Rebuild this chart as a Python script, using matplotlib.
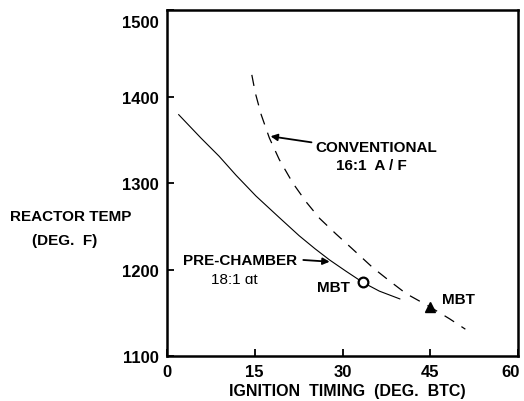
import matplotlib
matplotlib.use("Agg")
import matplotlib.pyplot as plt
from matplotlib.transforms import ScaledTranslation

plt.rcParams['font.family'] = ['Liberation Sans', 'DejaVu Sans']
plt.rcParams['font.weight'] = 'bold'

# pre-chamber, 18:1 overall mixture
pre_x = [2, 5.8, 8.9, 11.8, 15.2, 19.2, 22.6, 25.3, 27.8, 30.6, 33.5, 36.3, 39.8]
pre_y = [1379, 1352, 1331, 1309, 1285, 1260, 1239, 1224, 1211, 1198, 1185, 1175, 1166]

# conventional, 16:1 A/F
conv_x = [14.5, 15.1, 16.1, 17.5, 19.2, 21.5, 23.8, 26.1, 28.9, 31.5, 35.2, 38, 40.9, 44.9, 48.3, 51]
conv_y = [1425, 1404, 1379, 1352, 1327, 1300, 1278, 1259, 1241, 1225, 1202, 1187, 1172, 1157, 1143, 1131]

# minimum advance for best torque
mbt_pre = (33.5, 1185)
mbt_conv = (45, 1157)

x_ticks = [0, 15, 30, 45, 60]
y_ticks = [1100, 1200, 1300, 1400, 1500]

W, H = 524, 402
fig = plt.figure(figsize=(W / 100, H / 100), dpi=100)
ax = fig.add_axes([167 / W, 1 - 357 / H, 351 / W, 346 / H])

ax.plot(pre_x, pre_y, color='black', lw=0.8)
ax.plot(conv_x, conv_y, color='black', lw=0.9, dashes=(9, 7))
ax.plot(*mbt_pre, marker='o', ms=7, mfc='white', mec='black', mew=1.6)
ax.plot(*mbt_conv, marker='^', ms=7, color='black')

ax.set_xlim(0, 60)
ax.set_ylim(1100, 1500)
ax.set_xticks(x_ticks)
ax.set_yticks(y_ticks)
ax.tick_params(direction='in', length=5, width=1.3, labelsize=12, pad=6)
for s in ax.spines.values():
    s.set_linewidth(1.8)

# nudge the end labels so they stay inside the figure
shift = lambda dx, dy: ScaledTranslation(dx / 100, dy / 100, fig.dpi_scale_trans)
lab = ax.get_yticklabels()[-1]
lab.set_transform(lab.get_transform() + shift(0, -11))
lab = ax.get_xticklabels()[-1]
lab.set_transform(lab.get_transform() + shift(-7, 0))

ax.text(35.8, 1342, 'CONVENTIONAL', ha='center', va='center', fontsize=11)
ax.text(35.0, 1321, '16:1  A / F', ha='center', va='center', fontsize=11)
ax.annotate('', xy=(17.7, 1354), xytext=(24.7, 1347),
            arrowprops=dict(arrowstyle='-|>', color='black', lw=1.3, mutation_scale=10,
                            shrinkA=0, shrinkB=0))

ax.text(12.5, 1211, 'PRE-CHAMBER', ha='center', va='center', fontsize=11)
ax.text(11.5, 1189, '18:1 ɑt', ha='center', va='center', fontsize=11, fontweight='normal')
ax.annotate('', xy=(27.8, 1209), xytext=(23.3, 1211),
            arrowprops=dict(arrowstyle='-|>', color='black', lw=1.3, mutation_scale=10,
                            shrinkA=0, shrinkB=0))

ax.text(31.2, 1180, 'MBT', ha='right', va='center', fontsize=11)
ax.text(47.0, 1166, 'MBT', ha='left', va='center', fontsize=11)

fig.text(71 / W, 1 - 217 / H, 'REACTOR TEMP', ha='center', va='center', fontsize=11)
fig.text(65 / W, 1 - 241 / H, '(DEG.  F)', ha='center', va='center', fontsize=11)
fig.text(347 / W, 1 - 392 / H, 'IGNITION  TIMING  (DEG.  BTC)', ha='center', va='center', fontsize=11.5)

fig.savefig('out.png', dpi=100)
